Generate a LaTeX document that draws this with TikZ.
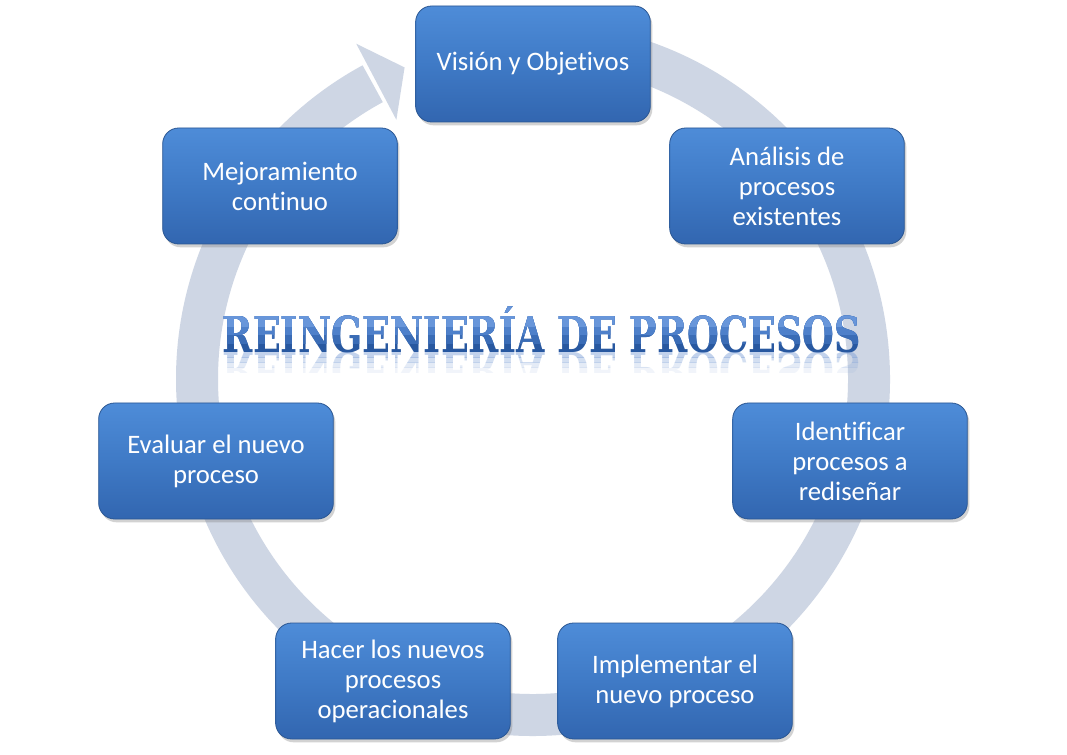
\documentclass[tikz,border=0pt]{standalone}
\usepackage{fontspec}
\setmainfont{Carlito}[Ligatures=NoCommon]
\newfontfamily\titlefont{DejaVu Serif}
\usetikzlibrary{shadows}

\definecolor{ringgray}{RGB}{206,214,228}
\definecolor{boxtop}{RGB}{78,140,216}
\definecolor{boxmid}{RGB}{63,122,198}
\definecolor{boxbot}{RGB}{50,102,176}
\definecolor{boxline}{RGB}{42,86,146}
\definecolor{titleA}{RGB}{104,150,218}
\definecolor{titleB}{RGB}{78,128,202}
\definecolor{titleC}{RGB}{58,108,182}
\definecolor{titleD}{RGB}{40,88,160}
\definecolor{titleref}{RGB}{120,156,214}

\newcommand{\titletext}{\resizebox{478.5pt}{\height}{\titlefont\bfseries\fontsize{37}{37}\selectfont REINGENIER\'IA DE PROCESOS}}

\begin{document}
\begin{tikzpicture}[x=0.75pt, y=0.75pt,
  procbox/.style={rectangle, rounded corners=12pt, minimum width=176pt, minimum height=87pt,
    draw=boxline, line width=0.6pt, top color=boxtop, bottom color=boxbot, middle color=boxmid,
    text=white, align=center, font=\fontsize{20}{22.5}\selectfont,
    drop shadow={shadow xshift=1.5pt, shadow yshift=-2.5pt, opacity=0.35}},
  titletxt/.style={anchor=base, inner sep=0pt, text=#1}]

\fill[white] (0,0) rectangle (1067,754);
\useasboundingbox (0,0) rectangle (1067,754);

% ring with arrow head
\coordinate (c) at (533,375);
\draw[ringgray, line width=31.5pt] ([shift={(95:336)}]c) arc[start angle=95, end angle=-241.5, radius=336];
\fill[ringgray] ([shift={(117.8:379)}]c) -- ([shift={(112.4:337)}]c) -- ([shift={(117.8:293)}]c) -- cycle;

% title
\node[titletxt=titleD] (title) at (541.8,401.3) {\titletext};
\foreach \yb/\tc in {410/titleC, 419/titleB, 427/titleA} {
  \begin{scope}
    \clip (200,\yb) rectangle (880,470);
    \node[titletxt=\tc] at (541.8,401.3) {\titletext};
  \end{scope}
}
% reflection
\foreach \yb/\op in {396/0.45, 391/0.32, 386/0.2, 381/0.1} {
  \begin{scope}
    \clip (200,\yb) rectangle (880,{\yb+5});
    \node[titletxt=titleref, yscale=-1, opacity=\op] at (541.8,401.3) {\titletext};
  \end{scope}
}

% steps
\node[procbox] (vision) at (533,690) {Visión y Objetivos};
\node[procbox] (analisis) at (787,568) {Análisis de\\procesos\\existentes};
\node[procbox] (identificar) at (850,293) {Identificar\\procesos a\\rediseñar};
\node[procbox] (implementar) at (675,73) {Implementar el\\nuevo proceso};
\node[procbox] (hacer) at (393,73) {Hacer los nuevos\\procesos\\operacionales};
\node[procbox] (evaluar) at (216,293) {Evaluar el nuevo\\proceso};
\node[procbox] (mejora) at (280,568) {Mejoramiento\\continuo};
\end{tikzpicture}
\end{document}
